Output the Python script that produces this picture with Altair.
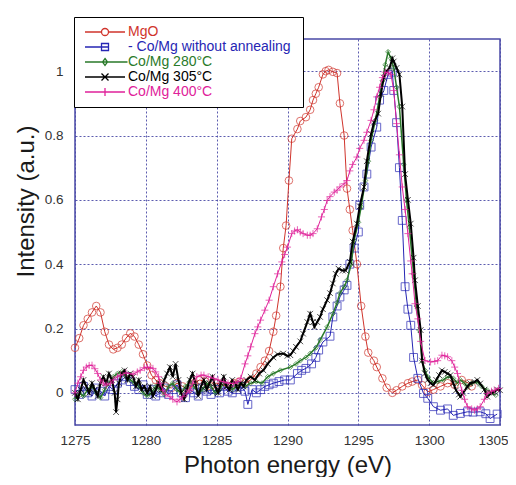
import altair as alt
import pandas as pd

names = ["MgO", "- Co/Mg  without annealing", " Co/Mg 280°C", "Co/Mg 305°C", "Co/Mg 400°C"]
colors = ["#d0342c", "#2626b4", "#2a7a2a", "#000000", "#e0229a"]

mgo_x = [1275.0, 1275.3, 1275.6, 1275.9, 1276.2, 1276.5, 1276.8, 1277.1, 1277.4, 1277.7,
         1278.0, 1278.3, 1278.6, 1278.9, 1279.2, 1279.5, 1279.8, 1280.1, 1280.4, 1280.7,
         1281.0, 1281.4, 1281.8, 1282.2, 1282.6, 1283.0, 1283.4, 1283.8, 1284.2, 1284.6,
         1285.0, 1285.4, 1285.8, 1286.2, 1286.6, 1287.0, 1287.4, 1287.8, 1288.1, 1288.4,
         1288.7, 1289.0, 1289.2, 1289.5, 1289.7, 1289.9, 1290.1, 1290.3, 1290.7, 1290.9,
         1291.3, 1291.6, 1291.8, 1292.0, 1292.2, 1292.5, 1292.7, 1292.9, 1293.2, 1293.5,
         1293.7, 1294.0, 1294.2, 1294.4, 1294.6, 1294.9, 1295.2, 1295.5, 1295.7, 1296.1,
         1296.3, 1296.7, 1297.0, 1297.4, 1297.7, 1298.1, 1298.5, 1298.8, 1299.2, 1299.5,
         1299.9, 1300.3, 1300.8, 1301.3, 1301.8, 1302.3, 1302.8, 1303.0]
mgo_y = [0.14, 0.17, 0.21, 0.23, 0.25, 0.27, 0.25, 0.19, 0.15, 0.135,
         0.14, 0.15, 0.17, 0.185, 0.175, 0.15, 0.12, 0.085, 0.055, 0.04,
         0.03, 0.02, 0.015, 0.03, 0.02, 0.01, 0.03, 0.04, 0.035, 0.02,
         0.03, 0.025, 0.02, 0.03, 0.035, 0.03, 0.04, 0.06, 0.08, 0.10,
         0.13, 0.19, 0.24, 0.33, 0.45, 0.52, 0.66, 0.79, 0.82, 0.845,
         0.857, 0.88, 0.91, 0.93, 0.95, 0.99, 1.0, 1.004, 0.998, 0.994,
         0.90, 0.80, 0.635, 0.57, 0.505, 0.40, 0.27, 0.175, 0.125, 0.10,
         0.08, 0.045, 0.016, 0.0, 0.008, 0.02, 0.03, 0.035, 0.04, 0.024,
         0.003, 0.01, 0.02, 0.03, 0.025, 0.04, 0.03, 0.02]

blue_x = [1275.0, 1275.3, 1275.6, 1275.9, 1276.2, 1276.5, 1276.8, 1277.1, 1277.4, 1277.7,
          1278.0, 1278.3, 1278.6, 1278.9, 1279.2, 1279.5, 1279.8, 1280.1, 1280.4, 1280.7,
          1281.0, 1281.3, 1281.6, 1281.9, 1282.2, 1282.5, 1282.8, 1283.1, 1283.4, 1283.7,
          1284.0, 1284.3, 1284.6, 1284.9, 1285.2, 1285.5, 1285.8, 1286.1, 1286.4, 1286.7,
          1287.0, 1287.2, 1287.5, 1287.8, 1288.1, 1288.4, 1288.7, 1289.0, 1289.4, 1289.8,
          1290.2, 1290.7, 1291.0, 1291.3, 1291.7, 1292.0, 1292.2, 1292.5, 1293.0, 1293.2,
          1293.5, 1293.7, 1294.0, 1294.2, 1294.4, 1294.7, 1295.0, 1295.1, 1295.4, 1295.6,
          1295.9, 1296.3, 1296.5, 1296.8, 1297.1, 1297.4, 1297.5, 1297.7, 1297.9, 1298.1,
          1298.3, 1298.5, 1298.7, 1298.9, 1299.2, 1299.6, 1299.9, 1300.3, 1300.8, 1301.3,
          1301.7, 1302.2, 1302.7, 1303.1, 1303.6, 1304.0, 1304.3, 1304.8]
blue_y = [0.01, -0.005, 0.02, 0.0, -0.01, 0.015, 0.005, -0.01, 0.02, 0.01,
          0.03, 0.04, 0.05, 0.035, 0.02, 0.01, 0.025, -0.005, 0.01, -0.01,
          0.0, 0.015, -0.005, 0.01, 0.025, 0.0, -0.015, 0.01, 0.0, -0.01,
          0.015, 0.005, -0.005, 0.01, 0.0, 0.02, 0.005, 0.0, 0.01, 0.02,
          0.005, -0.036, 0.01, 0.0, 0.01, 0.02, 0.025, 0.03, 0.035, 0.04,
          0.04, 0.06, 0.07, 0.076, 0.09, 0.11, 0.133, 0.158, 0.176, 0.236,
          0.27, 0.298, 0.32, 0.334, 0.40, 0.45, 0.50, 0.583, 0.64, 0.68,
          0.764, 0.826, 0.91, 0.94, 0.99, 0.997, 0.94, 0.84, 0.70, 0.536,
          0.33, 0.26, 0.21, 0.11, 0.045, -0.002, -0.017, -0.043, -0.054, -0.05,
          -0.07, -0.064, -0.059, -0.06, -0.059, -0.065, -0.08, -0.066]

green_x = [1275.0, 1275.3, 1275.6, 1275.9, 1276.2, 1276.5, 1276.8, 1277.1, 1277.4, 1277.7,
           1278.0, 1278.3, 1278.6, 1278.9, 1279.2, 1279.5, 1279.8, 1280.1, 1280.4, 1280.7,
           1281.0, 1281.3, 1281.6, 1281.9, 1282.2, 1282.5, 1282.8, 1283.1, 1283.4, 1283.7,
           1284.0, 1284.3, 1284.6, 1284.9, 1285.2, 1285.5, 1285.8, 1286.1, 1286.4, 1286.7,
           1287.0, 1287.4, 1287.8, 1288.2, 1288.6, 1289.0, 1289.5, 1290.2, 1290.6, 1290.9,
           1291.3, 1291.6, 1292.0, 1292.3, 1292.8, 1293.2, 1293.5, 1293.7, 1294.0, 1294.2,
           1294.5, 1294.7, 1295.0, 1295.2, 1295.5, 1295.7, 1295.9, 1296.2, 1296.5, 1296.7,
           1296.9, 1297.1, 1297.3, 1297.5, 1297.7, 1297.9, 1298.2, 1298.4, 1298.6, 1298.9,
           1299.1, 1299.3, 1299.5, 1299.7, 1299.9, 1300.3, 1300.6, 1301.0, 1301.3, 1301.7,
           1302.0, 1302.2, 1302.5, 1302.7, 1303.0, 1303.4, 1303.7, 1304.1, 1304.4, 1304.7]
green_y = [-0.02, 0.0, -0.01, 0.01, 0.02, 0.0, -0.015, 0.01, 0.03, 0.05,
           0.06, 0.065, 0.05, 0.04, 0.03, 0.02, 0.0, -0.01, 0.0, 0.02,
           0.01, -0.005, 0.02, 0.03, 0.01, 0.0, 0.02, 0.035, 0.02, 0.0,
           0.01, 0.03, 0.02, 0.0, 0.01, 0.03, 0.02, 0.01, 0.02, 0.03,
           0.02, 0.03, 0.035, 0.03, 0.05, 0.06, 0.07, 0.08, 0.09, 0.10,
           0.11, 0.122, 0.14, 0.164, 0.205, 0.246, 0.28, 0.31, 0.33, 0.35,
           0.40, 0.474, 0.53, 0.578, 0.66, 0.72, 0.785, 0.847, 0.92, 0.97,
           1.02, 1.06, 1.04, 1.01, 0.95, 0.89, 0.71, 0.60, 0.515, 0.37,
           0.27, 0.195, 0.10, 0.07, 0.05, 0.03, 0.035, 0.04, 0.05, 0.045,
           0.03, 0.04, 0.03, 0.019, 0.03, 0.034, 0.02, 0.008, 0.0, -0.007]

black_x = [1275.0, 1275.2, 1275.4, 1275.6, 1275.8, 1276.0, 1276.2, 1276.4, 1276.6, 1276.8,
           1277.0, 1277.2, 1277.4, 1277.6, 1277.8, 1277.9, 1278.0, 1278.1, 1278.3, 1278.5,
           1278.7, 1278.9, 1279.1, 1279.3, 1279.5, 1279.7, 1279.9, 1280.1, 1280.3, 1280.5,
           1280.7, 1280.9, 1281.1, 1281.3, 1281.5, 1281.7, 1281.9, 1282.1, 1282.3, 1282.5,
           1282.7, 1282.9, 1283.1, 1283.3, 1283.5, 1283.7, 1283.9, 1284.1, 1284.3, 1284.5,
           1284.7, 1284.9, 1285.1, 1285.3, 1285.5, 1285.7, 1285.9, 1286.1, 1286.3, 1286.5,
           1286.7, 1286.9, 1287.1, 1287.4, 1287.7, 1288.0, 1288.3, 1288.6, 1289.0, 1289.3,
           1289.7, 1290.0, 1290.2, 1290.4, 1290.6, 1290.9, 1291.1, 1291.4, 1291.6, 1291.8,
           1291.9, 1292.1, 1292.3, 1292.5, 1292.8, 1293.0, 1293.2, 1293.4, 1293.6, 1293.9,
           1294.1, 1294.4, 1294.6, 1294.9, 1295.1, 1295.4, 1295.6, 1295.9, 1296.1, 1296.4,
           1296.6, 1296.8, 1297.0, 1297.2, 1297.4, 1297.5, 1297.7, 1297.9, 1298.1, 1298.3,
           1298.5, 1298.7, 1298.9, 1299.0, 1299.2, 1299.4, 1299.5, 1299.7, 1299.9, 1300.1,
           1300.3, 1300.5, 1300.7, 1300.9, 1301.1, 1301.3, 1301.5, 1301.7, 1301.9, 1302.1,
           1302.2, 1302.4, 1302.7, 1302.9, 1303.2, 1303.4, 1303.6, 1303.9, 1304.1, 1304.4,
           1304.6, 1304.8, 1305.0]
black_y = [0.0, -0.02, 0.01, 0.04, 0.02, 0.0, 0.03, 0.01, -0.01, 0.03,
           0.05, 0.03, 0.06, 0.04, 0.0, -0.06, -0.02, 0.03, 0.06, 0.07,
           0.04, 0.06, 0.05, 0.02, 0.04, 0.01, 0.02, 0.0, 0.02, -0.01,
           0.01, 0.03, 0.01, 0.04, 0.06, 0.08, 0.05, 0.09, 0.04, 0.0,
           -0.02, 0.01, 0.04, 0.06, 0.03, -0.01, 0.02, 0.04, 0.01, 0.03,
           0.05, 0.02, 0.0, 0.03, 0.05, 0.02, 0.01, 0.04, 0.03, 0.01,
           0.03, 0.02, 0.04, 0.05, 0.04, 0.06, 0.07, 0.09, 0.11, 0.12,
           0.122, 0.115, 0.117, 0.13, 0.143, 0.16, 0.184, 0.22, 0.246, 0.22,
           0.205, 0.22, 0.236, 0.26, 0.288, 0.31, 0.34, 0.37, 0.386, 0.38,
           0.38, 0.407, 0.47, 0.526, 0.58, 0.64, 0.72, 0.805, 0.84, 0.868,
           0.93, 0.98, 1.0, 1.01, 1.04, 1.03, 1.01, 0.99, 0.89, 0.68,
           0.60, 0.526, 0.42, 0.35, 0.27, 0.195, 0.10, 0.06, 0.04, 0.03,
           0.024, 0.04, 0.055, 0.07, 0.065, 0.06, 0.055, 0.03, 0.008, -0.005,
           -0.012, 0.0, 0.019, 0.03, 0.034, 0.04, 0.029, 0.01, -0.012, 0.0,
           0.003, 0.01, 0.008]

pink_x = [1275.0, 1275.2, 1275.4, 1275.6, 1275.8, 1276.0, 1276.2, 1276.4, 1276.6, 1276.8,
          1277.0, 1277.2, 1277.5, 1277.7, 1278.0, 1278.2, 1278.6, 1279.1, 1279.4, 1279.6,
          1279.9, 1280.1, 1280.3, 1280.5, 1280.7, 1280.9, 1281.0, 1281.2, 1281.4, 1281.7,
          1281.9, 1282.2, 1282.4, 1282.6, 1282.9, 1283.1, 1283.3, 1283.6, 1283.9, 1284.1,
          1284.4, 1284.8, 1285.1, 1285.5, 1285.8, 1286.2, 1286.5, 1286.7, 1287.0, 1287.2,
          1287.4, 1287.7, 1287.9, 1288.1, 1288.4, 1288.7, 1289.0, 1289.3, 1289.6, 1289.8,
          1290.0, 1290.3, 1290.5, 1290.7, 1290.9, 1291.1, 1291.4, 1291.6, 1291.8, 1292.1,
          1292.4, 1292.6, 1292.8, 1293.0, 1293.3, 1293.5, 1293.7, 1294.0, 1294.2, 1294.4,
          1294.6, 1294.9, 1295.1, 1295.4, 1295.6, 1295.9, 1296.1, 1296.3, 1296.5, 1296.7,
          1296.9, 1297.1, 1297.3, 1297.5, 1297.7, 1297.9, 1298.1, 1298.3, 1298.5, 1298.7,
          1298.8, 1299.0, 1299.2, 1299.4, 1299.7, 1300.1, 1300.4, 1300.6, 1300.9, 1301.1,
          1301.3, 1301.6, 1301.8, 1302.0, 1302.3, 1302.5, 1302.7, 1303.0, 1303.2, 1303.4,
          1303.6, 1303.9, 1304.1, 1304.4, 1304.6, 1304.9]
pink_y = [0.0, 0.03, 0.05, 0.07, 0.08, 0.085, 0.086, 0.075, 0.06, 0.04,
          0.03, 0.024, 0.03, 0.04, 0.05, 0.055, 0.062, 0.058, 0.065, 0.07,
          0.078, 0.08, 0.078, 0.076, 0.065, 0.05, 0.03, 0.008, -0.005, -0.012,
          -0.02, -0.028, -0.02, -0.012, 0.0, 0.008, 0.03, 0.05, 0.055, 0.055,
          0.05, 0.045, 0.04, 0.034, 0.03, 0.029, 0.035, 0.045, 0.09, 0.115,
          0.143, 0.184, 0.205, 0.226, 0.257, 0.288, 0.33, 0.37, 0.407, 0.43,
          0.453, 0.495, 0.503, 0.507, 0.50, 0.495, 0.49, 0.49, 0.495, 0.51,
          0.547, 0.57, 0.598, 0.61, 0.624, 0.63, 0.64, 0.65, 0.66, 0.69,
          0.71, 0.733, 0.76, 0.785, 0.81, 0.847, 0.88, 0.92, 0.95, 0.98,
          0.997, 0.995, 0.99, 0.94, 0.837, 0.74, 0.64, 0.57, 0.495, 0.41,
          0.37, 0.277, 0.23, 0.16, 0.10, 0.096, 0.098, 0.10, 0.117, 0.115,
          0.112, 0.10, 0.08, 0.06, 0.008, -0.02, -0.043, -0.05, -0.054, -0.05,
          -0.043, -0.02, -0.002, 0.005, 0.008, 0.014]

x_ticks = [1275, 1280, 1285, 1290, 1295, 1300, 1305]
y_ticks = [0, 0.2, 0.4, 0.6, 0.8, 1.0]

xs_all = [mgo_x, blue_x, green_x, black_x, pink_x]
ys_all = [mgo_y, blue_y, green_y, black_y, pink_y]
frames = [pd.DataFrame({"x": xs, "y": ys, "series": n}) for n, xs, ys in zip(names, xs_all, ys_all)]
df = pd.concat(frames, ignore_index=True)

X_PATH = "M-1,-1L1,1M-1,1L1,-1"
PLUS_PATH = "M-1,0H1M0,-1V1"
marker_shapes = ["circle", "square", "diamond", X_PATH, PLUS_PATH]
marker_sizes = [58, 62, 24, 32, 50]
line_widths = [1, 1, 1.5, 2, 1]

legend_paths = [
    "M-4,0H-0.7M0.7,0H4M-0.7,0A0.7,0.7 0 1,0 0.7,0A0.7,0.7 0 1,0 -0.7,0",
    "M-4,0H0.7M-0.7,-0.7H0.7V0.7H-0.7Z",
    "M-4,0H4.5M0,-0.7L0.5,0L0,0.7L-0.5,0Z",
    "M-4,0H4M-0.7,-0.7L0.7,0.7M-0.7,0.7L0.7,-0.7",
    "M-4,0H4M0,-0.8V0.8",
]

grid_color = "#4a4aa6"
xenc = alt.X("x:Q", title="Photon energy (eV)",
             scale=alt.Scale(domain=[1275, 1305], nice=False, zero=False),
             axis=alt.Axis(values=x_ticks, format="d", ticks=False, domain=False,
                           labelFlush=False, labelOverlap=False, labelBound=False,
                           labelOffset={"condition": {"test": "datum.value == 1305", "value": -7}, "value": 0},
                           labelPadding=8, titleBaseline="alphabetic", titleY=47))
yenc = alt.Y("y:Q", title="Intensity (a.u.)",
             scale=alt.Scale(domain=[-0.1, 1.1], nice=False, zero=False),
             axis=alt.Axis(values=y_ticks, format="~g", ticks=False, domain=False,
                           labelFlush=False, labelOverlap=False,
                           labelPadding=12, titleBaseline="alphabetic",
                           titleX=-42, titleY=162))

layers = []
for i, n in enumerate(names):
    base = alt.Chart(df).transform_filter(alt.datum.series == n)
    layers.append(base.mark_line(color=colors[i], strokeWidth=line_widths[i]).encode(x=xenc, y=yenc))
    layers.append(base.mark_point(shape=marker_shapes[i], size=marker_sizes[i], filled=False,
                                  color=colors[i], strokeWidth=1).encode(x=xenc, y=yenc))

leg = dict(orient="none", legendX=-1, legendY=-22, title=None, padding=8, rowPadding=1,
           symbolSize=100, symbolStrokeWidth=1.3, symbolOffset=16, labelOffset=16,
           labelFont="Liberation Sans", labelFontSize=14, labelLimit=0,
           labelColor=alt.ExprRef(expr="scale('color', datum.value)"),
           fillColor="white", strokeColor="black")

legend_layer = alt.Chart(df).mark_point(opacity=0, filled=False).encode(
    x=xenc, y=yenc,
    color=alt.Color("series:N", scale=alt.Scale(domain=names, range=colors), legend=alt.Legend(**leg)),
    shape=alt.Shape("series:N", scale=alt.Scale(domain=names, range=legend_paths), legend=alt.Legend(**leg)),
)

chart = alt.layer(*layers, legend_layer).properties(
    width=425, height=386,
    padding={"left": 67, "top": 31, "right": 8, "bottom": 52},
    autosize=alt.AutoSizeParams(type="none"),
).configure(font="Liberation Sans").configure_view(
    stroke=grid_color, strokeWidth=1.5
).configure_axis(
    grid=True, gridColor=grid_color, gridDash=[2, 2], gridWidth=1, gridOpacity=0.9,
    labelFont="Liberation Sans", labelFontSize=13.5, labelColor="#333333",
    titleFont="Liberation Sans", titleFontSize=24, titleFontWeight="normal", titleColor="#1a1a1a",
)

chart.save("out.html", embed_options={"renderer": "svg", "actions": False})
